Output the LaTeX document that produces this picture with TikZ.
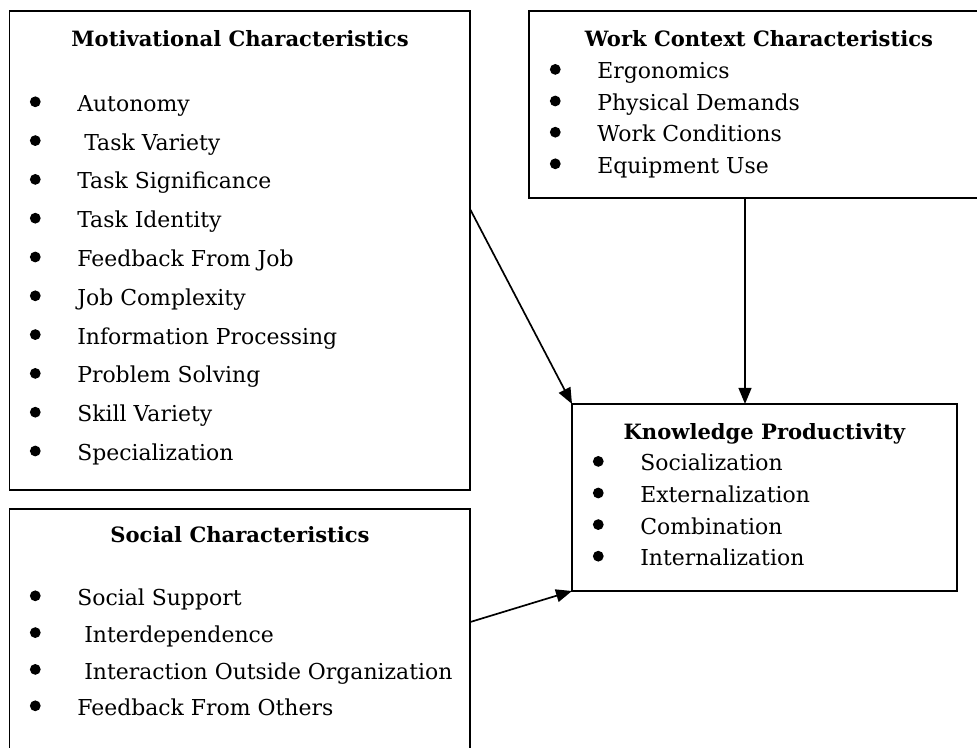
\documentclass[tikz,border=0pt]{standalone}
\usepackage{fontspec}
\setmainfont{DejaVu Serif}
\usetikzlibrary{arrows.meta}

\newcommand{\bul}{\llap{\tikz[baseline=-0.24cm]\fill (0,0) circle (0.135cm);\hspace{0.915cm}}}

\begin{document}
\begin{tikzpicture}[
		charbox/.style={draw, line width=1.3pt, inner sep=0pt, outer sep=0pt},
		heading/.style={anchor=base, inner sep=0pt, font=\fontsize{15}{18}\selectfont\bfseries},
		entry/.style={anchor=base west, inner sep=0pt, font=\fontsize{15.6}{18}\selectfont},
		flow/.style={line width=1.2pt, -{Triangle[length=0.4cm, width=0.32cm]}}]
		\useasboundingbox (0, 0) rectangle (24.425, 18.675);
		\clip (0, 0) rectangle (24.425, 18.675);
		
		% Рамки
		\node[charbox, minimum width=11.51cm, minimum height=11.975cm] (motiv) at (5.994, 12.4125) {};
		\node[charbox, minimum width=11.51cm, minimum height=6.275cm] (social) at (5.994, 2.8125) {};
		\node[charbox, minimum width=11.5cm, minimum height=4.675cm] (context) at (18.975, 16.0625) {};
		\node[charbox, minimum width=9.625cm, minimum height=4.675cm] (know) at (19.1125, 6.2375) {};
		
		% Стрелки
		\draw[flow] ([yshift=1.04cm]motiv.east) -- (know.north west);
		\draw[flow] ([xshift=-0.35cm]context.south) -- ([xshift=-0.35cm]context.south |- know.north);
		\draw[flow] ([yshift=0.31cm]social.east) -- (know.south west);
		
		\node[heading] (motivtitle) at (6.0, 17.5) {Motivational Characteristics};
		\node[entry] (m1) at (1.925, 15.89) {\bul Autonomy};
		\node[entry] (m2) at (1.925, 14.92) {\bul\ Task Variety};
		\node[entry] (m3) at (1.925, 13.95) {\bul Task Significance};
		\node[entry] (m4) at (1.925, 12.98) {\bul Task Identity};
		\node[entry] (m5) at (1.925, 12.01) {\bul Feedback From Job};
		\node[entry] (m6) at (1.925, 11.04) {\bul Job Complexity};
		\node[entry] (m7) at (1.925, 10.07) {\bul Information Processing};
		\node[entry] (m8) at (1.925, 9.10) {\bul Problem Solving};
		\node[entry] (m9) at (1.925, 8.13) {\bul Skill Variety};
		\node[entry] (m10) at (1.925, 7.16) {\bul Specialization};
		
		\node[heading] (socialtitle) at (6.0, 5.1) {Social Characteristics};
		\node[entry] (s1) at (1.925, 3.54) {\bul Social Support};
		\node[entry] (s2) at (1.925, 2.62) {\bul\ Interdependence};
		\node[entry] (s3) at (1.925, 1.70) {\bul\ Interaction Outside Organization};
		\node[entry] (s4) at (1.925, 0.79) {\bul Feedback From Others};
		
		\node[heading] (contexttitle) at (18.975, 17.5) {Work Context Characteristics};
		\node[entry] (c1) at (14.925, 16.70) {\bul Ergonomics};
		\node[entry] (c2) at (14.925, 15.91) {\bul Physical Demands};
		\node[entry] (c3) at (14.925, 15.13) {\bul Work Conditions};
		\node[entry] (c4) at (14.925, 14.34) {\bul Equipment Use};
		
		\node[heading] (knowtitle) at (19.11, 7.675) {Knowledge Productivity};
		\node[entry] (k1) at (16.0, 6.90) {\bul Socialization};
		\node[entry] (k2) at (16.0, 6.11) {\bul Externalization};
		\node[entry] (k3) at (16.0, 5.32) {\bul Combination};
		\node[entry] (k4) at (16.0, 4.53) {\bul Internalization};
	\end{tikzpicture}
\end{document}
